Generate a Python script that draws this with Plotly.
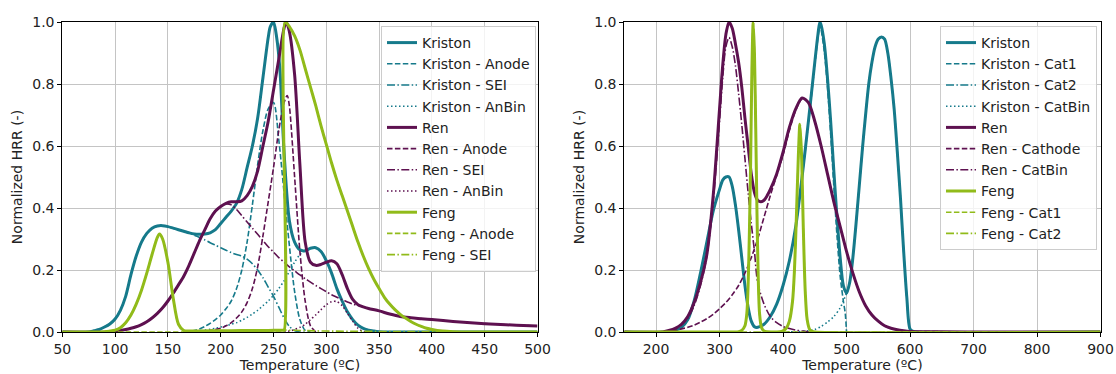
import plotly.graph_objects as go

# ---------------- LEFT PANEL (anode side) ----------------
L_KRISTON_T = [50, 75, 80, 85, 90, 95, 100, 105, 110, 115, 120, 125, 130, 135, 140, 145, 150, 155, 160, 165, 170,
               175, 180, 185, 190, 195, 200, 205, 210, 215, 220, 225, 230, 235, 240, 245, 247, 250, 253, 256, 260,
               265, 270, 275, 280, 285, 290, 295, 300, 305, 310, 315, 320, 325, 330, 335, 340, 345, 350, 360, 500]
L_KRISTON_Y = [0, 0, 0.004, 0.008, 0.016, 0.026, 0.042, 0.07, 0.115, 0.185, 0.245, 0.29, 0.318, 0.335, 0.342, 0.343,
               0.34, 0.335, 0.33, 0.325, 0.32, 0.316, 0.315, 0.316, 0.32, 0.33, 0.35, 0.37, 0.39, 0.415, 0.46, 0.53,
               0.6, 0.69, 0.82, 0.95, 0.985, 1.0, 0.95, 0.85, 0.58, 0.36, 0.29, 0.265, 0.262, 0.27, 0.272, 0.26, 0.23,
               0.19, 0.14, 0.1, 0.065, 0.04, 0.022, 0.012, 0.006, 0.003, 0.001, 0, 0]

L_KRISTON_ANODE_T = [165, 170, 175, 180, 185, 190, 195, 200, 205, 210, 215, 220, 225, 230, 235, 240, 245, 250, 255,
                     260, 265, 270, 275, 280, 285]
L_KRISTON_ANODE_Y = [0, 0.002, 0.005, 0.01, 0.018, 0.028, 0.04, 0.055, 0.075, 0.1, 0.14, 0.2, 0.29, 0.41, 0.54, 0.65,
                     0.72, 0.74, 0.62, 0.45, 0.28, 0.13, 0.04, 0.005, 0]

L_KRISTON_SEI_T = [50, 75, 80, 85, 90, 95, 100, 105, 110, 115, 120, 125, 130, 135, 140, 145, 150, 155, 160, 165, 170,
                   175, 180, 185, 190, 195, 200, 205, 210, 215, 220, 225, 230, 235, 240, 245, 250, 255, 260, 265, 270,
                   275, 500]
L_KRISTON_SEI_Y = [0, 0, 0.004, 0.008, 0.016, 0.026, 0.042, 0.07, 0.115, 0.185, 0.245, 0.29, 0.318, 0.335, 0.342,
                   0.343, 0.34, 0.335, 0.33, 0.325, 0.32, 0.312, 0.305, 0.297, 0.288, 0.28, 0.272, 0.264, 0.256, 0.25,
                   0.245, 0.235, 0.22, 0.2, 0.175, 0.145, 0.115, 0.08, 0.045, 0.018, 0.005, 0, 0]

L_KRISTON_ANBIN_T = [170, 175, 180, 185, 190, 195, 200, 205, 210, 215, 220, 225, 230, 235, 240, 245, 250, 255, 260,
                     265, 270, 275, 280, 285, 290, 295, 300, 305, 310, 315, 320, 325, 330, 335, 340, 345, 350, 360]
L_KRISTON_ANBIN_Y = [0, 0.002, 0.004, 0.006, 0.009, 0.012, 0.016, 0.02, 0.025, 0.03, 0.038, 0.047, 0.058, 0.07, 0.085,
                     0.1, 0.118, 0.14, 0.165, 0.195, 0.225, 0.25, 0.262, 0.27, 0.272, 0.26, 0.23, 0.19, 0.14, 0.1,
                     0.065, 0.04, 0.022, 0.012, 0.006, 0.003, 0.001, 0]

L_REN_T = [50, 95, 100, 105, 110, 115, 120, 125, 130, 135, 140, 145, 150, 155, 160, 165, 170, 175, 180, 185, 190, 195,
           200, 205, 210, 215, 220, 225, 230, 235, 240, 245, 250, 255, 260, 262, 265, 270, 275, 280, 285, 290, 295,
           300, 305, 310, 315, 320, 325, 330, 335, 340, 350, 360, 370, 380, 390, 400, 420, 440, 460, 480, 500]
L_REN_Y = [0, 0, 0.003, 0.005, 0.008, 0.012, 0.017, 0.024, 0.033, 0.045, 0.06, 0.078, 0.1, 0.125, 0.152, 0.18, 0.215,
           0.255, 0.295, 0.33, 0.365, 0.39, 0.405, 0.415, 0.42, 0.42, 0.423, 0.44, 0.47, 0.52, 0.6, 0.68, 0.78, 0.88,
           0.98, 1.0, 0.97, 0.83, 0.54, 0.29, 0.225, 0.215, 0.218, 0.225, 0.23, 0.22, 0.185, 0.14, 0.105, 0.088, 0.081,
           0.076, 0.068, 0.058, 0.05, 0.046, 0.043, 0.04, 0.034, 0.029, 0.025, 0.022, 0.019]

L_REN_ANODE_T = [180, 185, 190, 195, 200, 205, 210, 215, 220, 225, 230, 235, 240, 245, 250, 255, 260, 263, 265, 270,
                 275, 280, 285, 290]
L_REN_ANODE_Y = [0, 0.003, 0.005, 0.008, 0.012, 0.02, 0.03, 0.045, 0.065, 0.095, 0.14, 0.21, 0.31, 0.42, 0.53, 0.65,
                 0.74, 0.763, 0.73, 0.5, 0.26, 0.1, 0.02, 0]

L_REN_SEI_T = [50, 95, 100, 105, 110, 115, 120, 125, 130, 135, 140, 145, 150, 155, 160, 165, 170, 175, 180, 185, 190,
               195, 200, 205, 210, 215, 220, 225, 230, 235, 240, 245, 250, 255, 260, 265, 270, 275, 280, 285, 290, 295,
               300, 305, 310, 315, 320, 325, 330, 335, 340, 350, 360, 370, 380, 390, 400, 420, 440, 460, 480, 500]
L_REN_SEI_Y = [0, 0, 0.003, 0.005, 0.008, 0.012, 0.017, 0.024, 0.033, 0.045, 0.06, 0.078, 0.1, 0.125, 0.152, 0.18,
               0.215, 0.255, 0.295, 0.33, 0.365, 0.39, 0.405, 0.413, 0.41, 0.395, 0.375, 0.355, 0.335, 0.315, 0.295,
               0.275, 0.258, 0.24, 0.225, 0.21, 0.197, 0.184, 0.172, 0.161, 0.15, 0.14, 0.13, 0.12, 0.112, 0.104,
               0.097, 0.09, 0.086, 0.081, 0.076, 0.068, 0.058, 0.05, 0.046, 0.043, 0.04, 0.034, 0.029, 0.025, 0.022,
               0.019]

L_REN_ANBIN_T = [260, 265, 270, 275, 280, 285, 290, 295, 300, 305, 310, 315, 320, 325, 330, 335, 340]
L_REN_ANBIN_Y = [0, 0.003, 0.008, 0.015, 0.025, 0.04, 0.055, 0.072, 0.088, 0.098, 0.098, 0.085, 0.06, 0.035, 0.012,
                 0.002, 0]

L_FENG_T = [50, 90, 95, 100, 105, 110, 115, 120, 125, 130, 135, 140, 142, 145, 150, 155, 160, 165, 170, 190, 210, 230,
            245, 255, 258, 260, 261, 265, 270, 275, 280, 285, 290, 295, 300, 305, 310, 315, 320, 325, 330, 335, 340,
            345, 350, 355, 360, 365, 370, 375, 380, 385, 390, 395, 400, 410, 420, 440, 500]
L_FENG_Y = [0, 0.001, 0.003, 0.006, 0.014, 0.03, 0.055, 0.09, 0.135, 0.19, 0.25, 0.305, 0.316, 0.3, 0.225, 0.11, 0.025,
            0.005, 0.003, 0.004, 0.004, 0.005, 0.005, 0.006, 0.006, 0.006, 1.0, 0.985, 0.955, 0.91, 0.85, 0.79, 0.73,
            0.665, 0.605, 0.545, 0.49, 0.44, 0.39, 0.34, 0.29, 0.245, 0.205, 0.17, 0.14, 0.112, 0.09, 0.072, 0.057,
            0.045, 0.034, 0.025, 0.018, 0.012, 0.008, 0.003, 0.001, 0, 0]

L_FENG_ANODE_T = [50, 245, 255, 258, 260, 261, 265, 270, 275, 280, 285, 290, 295, 300, 305, 310, 315, 320, 325, 330,
                  335, 340, 345, 350, 355, 360, 365, 370, 375, 380, 385, 390, 395, 400, 410, 420, 440, 500]
L_FENG_ANODE_Y = [0, 0, 0, 0, 0, 1.0, 0.985, 0.955, 0.91, 0.85, 0.79, 0.73, 0.665, 0.605, 0.545, 0.49, 0.44, 0.39,
                  0.34, 0.29, 0.245, 0.205, 0.17, 0.14, 0.112, 0.09, 0.072, 0.057, 0.045, 0.034, 0.025, 0.018, 0.012,
                  0.008, 0.003, 0.001, 0, 0]

L_FENG_SEI_T = [50, 90, 95, 100, 105, 110, 115, 120, 125, 130, 135, 140, 142, 145, 150, 155, 160, 165, 170, 190, 210,
                230, 260, 300, 500]
L_FENG_SEI_Y = [0, 0.001, 0.003, 0.006, 0.014, 0.03, 0.055, 0.09, 0.135, 0.19, 0.25, 0.305, 0.316, 0.3, 0.225, 0.11,
                0.025, 0.005, 0.003, 0.004, 0.004, 0.005, 0.006, 0.003, 0]

# ---------------- RIGHT PANEL (cathode side) ----------------
R_KRISTON_T = [150, 220, 230, 240, 250, 260, 270, 280, 290, 300, 305, 310, 315, 320, 325, 330, 335, 340, 345, 350, 355,
               360, 370, 380, 390, 400, 410, 420, 430, 440, 450, 455, 458, 460, 465, 470, 475, 480, 485, 490, 495, 500,
               505, 510, 515, 520, 525, 530, 535, 540, 545, 550, 555, 560, 565, 570, 575, 580, 585, 590, 595, 600,
               605, 610, 900]
R_KRISTON_Y = [0, 0, 0.005, 0.015, 0.04, 0.1, 0.19, 0.29, 0.39, 0.46, 0.49, 0.5, 0.5, 0.47, 0.41, 0.33, 0.24, 0.15,
               0.08, 0.035, 0.017, 0.015, 0.025, 0.05, 0.09, 0.15, 0.23, 0.34, 0.5, 0.68, 0.87, 0.96, 1.0, 0.99, 0.93,
               0.82, 0.68, 0.52, 0.37, 0.24, 0.15, 0.125, 0.16, 0.24, 0.35, 0.47, 0.59, 0.7, 0.8, 0.87, 0.92, 0.945,
               0.952, 0.945, 0.9, 0.82, 0.72, 0.58, 0.43, 0.26, 0.11, 0.01, 0.002, 0, 0]

R_KRISTON_CAT1_T = [150, 220, 230, 240, 250, 260, 270, 280, 290, 300, 305, 310, 315, 320, 325, 330, 335, 340, 345,
                    350, 355, 360, 370, 380, 390, 400, 410, 420, 430, 440, 450, 455, 458, 460, 465, 470, 475, 480,
                    485, 490, 495, 498, 500]
R_KRISTON_CAT1_Y = [0, 0, 0.005, 0.015, 0.04, 0.1, 0.19, 0.29, 0.39, 0.46, 0.49, 0.5, 0.5, 0.47, 0.41, 0.33, 0.24,
                    0.15, 0.08, 0.035, 0.017, 0.015, 0.025, 0.05, 0.09, 0.15, 0.23, 0.34, 0.5, 0.675, 0.862, 0.95,
                    0.99, 0.975, 0.905, 0.79, 0.64, 0.47, 0.31, 0.18, 0.1, 0.06, 0]

R_KRISTON_CAT2_T = [500, 505, 510, 515, 520, 525, 530, 535, 540, 545, 550, 555, 560, 565, 570, 575, 580, 585, 590,
                    595, 600, 605, 610, 900]
R_KRISTON_CAT2_Y = [0.125, 0.16, 0.24, 0.35, 0.47, 0.59, 0.7, 0.8, 0.87, 0.92, 0.945, 0.952, 0.945, 0.9, 0.82, 0.72,
                    0.58, 0.43, 0.26, 0.11, 0.01, 0.002, 0, 0]

R_KRISTON_CATBIN_T = [400, 420, 440, 450, 460, 470, 480, 490, 495, 500]
R_KRISTON_CATBIN_Y = [0, 0.001, 0.004, 0.008, 0.018, 0.032, 0.05, 0.078, 0.1, 0.125]

R_REN_T = [150, 210, 220, 230, 240, 250, 260, 270, 280, 290, 300, 305, 310, 315, 320, 325, 330, 335, 340, 345, 350,
           355, 360, 365, 370, 375, 380, 390, 400, 410, 420, 430, 440, 450, 460, 470, 480, 490, 500, 510, 520, 530,
           540, 550, 560, 570, 580, 590, 600, 650, 700, 900]
R_REN_Y = [0, 0, 0.005, 0.012, 0.025, 0.05, 0.095, 0.16, 0.25, 0.44, 0.72, 0.86, 0.96, 1.0, 0.98, 0.93, 0.87, 0.79,
           0.69, 0.6, 0.51, 0.45, 0.425, 0.42, 0.425, 0.44, 0.46, 0.51, 0.58, 0.66, 0.72, 0.755, 0.74, 0.68, 0.6, 0.51,
           0.42, 0.34, 0.26, 0.19, 0.13, 0.085, 0.055, 0.035, 0.02, 0.012, 0.007, 0.004, 0.002, 0.001, 0, 0]

R_REN_CATHODE_T = [200, 230, 240, 250, 260, 270, 280, 290, 300, 310, 320, 330, 340, 350, 360, 370, 380, 390, 400, 410,
                   420, 430, 440, 450, 460, 470, 480, 490, 500, 510, 520, 530, 540, 550, 560, 570, 580, 590, 600,
                   650, 700, 900]
R_REN_CATHODE_Y = [0, 0.005, 0.01, 0.015, 0.022, 0.032, 0.043, 0.057, 0.075, 0.095, 0.12, 0.15, 0.19, 0.24, 0.3, 0.37,
                   0.44, 0.505, 0.57, 0.65, 0.715, 0.752, 0.74, 0.68, 0.6, 0.51, 0.42, 0.34, 0.26, 0.19, 0.13, 0.085,
                   0.055, 0.035, 0.02, 0.012, 0.007, 0.004, 0.002, 0.001, 0, 0]

R_REN_CATBIN_T = [150, 210, 220, 230, 240, 250, 260, 270, 280, 290, 300, 305, 310, 315, 320, 325, 330, 335, 340, 345,
                  350, 355, 360, 370, 380, 390, 400, 410, 420, 430, 440, 450, 900]
R_REN_CATBIN_Y = [0, 0, 0.004, 0.01, 0.022, 0.045, 0.085, 0.15, 0.245, 0.42, 0.68, 0.82, 0.92, 0.95, 0.92, 0.86, 0.77,
                  0.67, 0.56, 0.45, 0.35, 0.26, 0.16, 0.09, 0.05, 0.03, 0.018, 0.011, 0.006, 0.003, 0.001, 0, 0]

R_FENG_T = [150, 300, 330, 335, 340, 343, 345, 347, 349, 351, 353, 355, 357, 359, 361, 363, 366, 370, 375, 395, 400,
            405, 410, 415, 418, 421, 424, 426.5, 429, 432, 435, 438, 442, 446, 450, 900]
R_FENG_Y = [0, 0, 0.001, 0.005, 0.02, 0.06, 0.15, 0.32, 0.55, 0.85, 1.0, 0.9, 0.66, 0.38, 0.17, 0.06, 0.015, 0.003,
            0.001, 0.001, 0.004, 0.012, 0.035, 0.1, 0.2, 0.37, 0.56, 0.67, 0.58, 0.33, 0.13, 0.04, 0.008, 0.002, 0, 0]

R_FENG_CAT1_T = [150, 300, 330, 335, 340, 343, 345, 347, 349, 351, 353, 355, 357, 359, 361, 363, 366, 370, 375, 400, 900]
R_FENG_CAT1_Y = [0, 0, 0.001, 0.005, 0.02, 0.06, 0.15, 0.32, 0.55, 0.85, 1.0, 0.9, 0.66, 0.38, 0.17, 0.06, 0.015,
                 0.003, 0.001, 0, 0]

R_FENG_CAT2_T = [150, 380, 395, 400, 405, 410, 415, 418, 421, 424, 426.5, 429, 432, 435, 438, 442, 446, 450, 900]
R_FENG_CAT2_Y = [0, 0, 0.001, 0.004, 0.012, 0.035, 0.1, 0.2, 0.37, 0.56, 0.67, 0.58, 0.33, 0.13, 0.04, 0.008, 0.002,
                 0, 0]

# ---------------- styling ----------------
C_KRISTON = "#167a8b"
C_REN = "#5e1150"
C_FENG = "#91bb1a"
FONT = "DejaVu Sans"
FS = 14
DASH = "5.5px,2.4px"
DASHDOT = "8px,2.4px,1.5px,2.4px"
DOT = "1.5px,2.5px"

fig = go.Figure()


def add(x, y, name, color, dash, width, axis, legend):
    fig.add_trace(go.Scatter(
        x=x, y=y, name=name, mode="lines",
        line=dict(color=color, width=width, dash=dash, shape="spline", smoothing=0.8),
        xaxis="x" if axis == 1 else "x2", yaxis="y" if axis == 1 else "y2",
        legend=legend, hoverinfo="skip"))


left = [
    (L_KRISTON_T, L_KRISTON_Y, "Kriston", C_KRISTON, "solid", 3),
    (L_KRISTON_ANODE_T, L_KRISTON_ANODE_Y, "Kriston - Anode", C_KRISTON, DASH, 1.6),
    (L_KRISTON_SEI_T, L_KRISTON_SEI_Y, "Kriston - SEI", C_KRISTON, DASHDOT, 1.6),
    (L_KRISTON_ANBIN_T, L_KRISTON_ANBIN_Y, "Kriston - AnBin", C_KRISTON, DOT, 1.6),
    (L_REN_T, L_REN_Y, "Ren", C_REN, "solid", 3),
    (L_REN_ANODE_T, L_REN_ANODE_Y, "Ren - Anode", C_REN, DASH, 1.6),
    (L_REN_SEI_T, L_REN_SEI_Y, "Ren - SEI", C_REN, DASHDOT, 1.6),
    (L_REN_ANBIN_T, L_REN_ANBIN_Y, "Ren - AnBin", C_REN, DOT, 1.6),
    (L_FENG_T, L_FENG_Y, "Feng", C_FENG, "solid", 3),
    (L_FENG_ANODE_T, L_FENG_ANODE_Y, "Feng - Anode", C_FENG, DASH, 1.6),
    (L_FENG_SEI_T, L_FENG_SEI_Y, "Feng - SEI", C_FENG, DASHDOT, 1.6),
]
right = [
    (R_KRISTON_T, R_KRISTON_Y, "Kriston", C_KRISTON, "solid", 3),
    (R_KRISTON_CAT1_T, R_KRISTON_CAT1_Y, "Kriston - Cat1", C_KRISTON, DASH, 1.6),
    (R_KRISTON_CAT2_T, R_KRISTON_CAT2_Y, "Kriston - Cat2", C_KRISTON, DASHDOT, 1.6),
    (R_KRISTON_CATBIN_T, R_KRISTON_CATBIN_Y, "Kriston - CatBin", C_KRISTON, DOT, 1.6),
    (R_REN_T, R_REN_Y, "Ren", C_REN, "solid", 3),
    (R_REN_CATHODE_T, R_REN_CATHODE_Y, "Ren - Cathode", C_REN, DASH, 1.6),
    (R_REN_CATBIN_T, R_REN_CATBIN_Y, "Ren - CatBin", C_REN, DASHDOT, 1.6),
    (R_FENG_T, R_FENG_Y, "Feng", C_FENG, "solid", 3),
    (R_FENG_CAT1_T, R_FENG_CAT1_Y, "Feng - Cat1", C_FENG, DASH, 1.6),
    (R_FENG_CAT2_T, R_FENG_CAT2_Y, "Feng - Cat2", C_FENG, DASHDOT, 1.6),
]
for x, y, n, c, d, w in left:
    add(x, y, n, c, d, w, 1, "legend")
for x, y, n, c, d, w in right:
    add(x, y, n, c, d, w, 2, "legend2")

W, H = 1116, 374
ydom = [(374 - 332) / 374, (374 - 22) / 374]
axis_common = dict(showline=True, linecolor="black", linewidth=1, mirror=True, ticks="outside", ticklen=4,
                   tickcolor="black", showgrid=True, gridcolor="#c4c4c4", gridwidth=1, zeroline=False,
                   tickfont=dict(family=FONT, size=FS, color="#222222"), automargin=False)
title_font = dict(family=FONT, size=FS, color="#222222")

legend_common = dict(font=dict(family=FONT, size=FS, color="#222222"), bgcolor="rgba(255,255,255,0.8)",
                     bordercolor="#cccccc", borderwidth=1, tracegroupgap=0, xanchor="right", yanchor="top",
                     itemwidth=30)

fig.update_layout(
    width=W, height=H, margin=dict(l=0, r=0, t=0, b=0),
    paper_bgcolor="white", plot_bgcolor="white",
    font=dict(family=FONT, size=FS, color="#222222"),
    xaxis=dict(domain=[62.3 / W, 537.5 / W], range=[50, 500], tickvals=list(range(50, 501, 50)), anchor="y",
               title=dict(text="Temperature (ºC)", font=title_font, standoff=4), **axis_common),
    yaxis=dict(domain=ydom, range=[0, 1], tickvals=[0, 0.2, 0.4, 0.6, 0.8, 1.0], tickformat=".1f", anchor="x",
               title=dict(text="Normalized HRR (-)", font=title_font, standoff=6), **axis_common),
    xaxis2=dict(domain=[624.3 / W, 1100.5 / W], range=[150, 900], tickvals=list(range(200, 901, 100)), anchor="y2",
                title=dict(text="Temperature (ºC)", font=title_font, standoff=4), **axis_common),
    yaxis2=dict(domain=ydom, range=[0, 1], tickvals=[0, 0.2, 0.4, 0.6, 0.8, 1.0], tickformat=".1f", anchor="x2",
                title=dict(text="Normalized HRR (-)", font=title_font, standoff=6), **axis_common),
    legend=dict(x=536 / W, y=(374 - 26) / 374, **legend_common),
    legend2=dict(x=1097 / W, y=(374 - 26) / 374, **legend_common),
    showlegend=True,
)

fig.write_html("out.html", config={"displayModeBar": False},
               post_script="document.body.style.margin='0px';")
